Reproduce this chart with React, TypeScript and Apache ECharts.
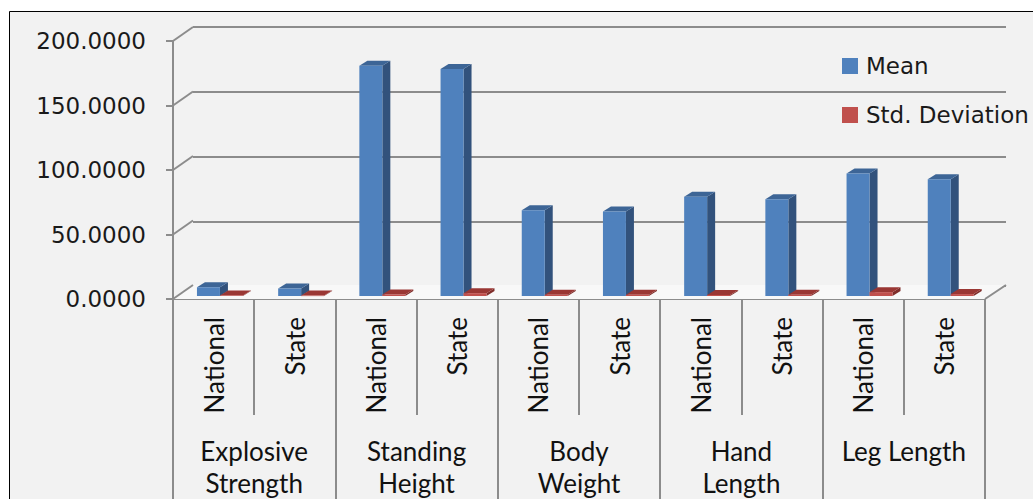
import React, { useEffect, useRef } from "react";
import * as echarts from "echarts";

const groups = ["Explosive\nStrength", "Standing\nHeight", "Body\nWeight", "Hand\nLength", "Leg Length"];
const levels = ["National", "State"];
const categories = groups.flatMap(() => levels);
const meanValues = [6.8, 5.8, 178.5, 176.0, 66.5, 65.5, 77.0, 75.0, 95.0, 90.5];
const sdValues = [0.4, 0.3, 1.2, 2.2, 1.0, 1.0, 0.8, 1.0, 3.0, 1.5];
const yTicks = [0, 50, 100, 150, 200];

const WALL_DX = 20;
const WALL_DY = -14;
const BAR_DX = 8;
const BAR_DY = -5;
const GRID = "#8c8c8c";

function makeBox(
  api: any,
  offsetIndex: number,
  colors: { front: string; top: string; side: string }
) {
  const i = api.value(0);
  const v = api.value(1);
  const p0 = api.coord([i, 0]);
  const pv = api.coord([i, v]);
  const bw = api.size([1, 0])[0];
  const start = p0[0] - bw / 2;
  const w = 0.283 * bw;
  const left = start + 0.295 * bw + offsetIndex * w;
  const yb = p0[1] - 3;
  const yt = pv[1] - 3;
  return {
    type: "group",
    children: [
      {
        type: "polygon",
        shape: {
          points: [
            [left + w, yt],
            [left + w + BAR_DX, yt + BAR_DY],
            [left + w + BAR_DX, yb + BAR_DY],
            [left + w, yb],
          ],
        },
        style: { fill: colors.side },
      },
      {
        type: "polygon",
        shape: {
          points: [
            [left, yt],
            [left + w, yt],
            [left + w + BAR_DX, yt + BAR_DY],
            [left + BAR_DX, yt + BAR_DY],
          ],
        },
        style: { fill: colors.top },
      },
      {
        type: "rect",
        shape: { x: left, y: yt, width: w, height: Math.max(yb - yt, 0.5) },
        style: { fill: colors.front },
      },
    ],
  };
}

export default function App() {
  const ref = useRef<HTMLDivElement>(null);
  useEffect(() => {
    if (!ref.current) return;
    const chart = echarts.init(ref.current, null, { renderer: "svg" });
    const option: any = {
      animation: false,
      backgroundColor: "#ffffff",
      graphic: [
        {
          type: "rect",
          z: -100,
          silent: true,
          shape: { x: 9.5, y: 11.5, width: 1100, height: 600 },
          style: { fill: "#f2f2f2", stroke: "#000000", lineWidth: 1 },
        },
      ],
      legend: {
        orient: "vertical",
        left: 842,
        top: 52,
        padding: 0,
        itemWidth: 16,
        itemHeight: 16,
        itemGap: 21,
        icon: "rect",
        data: ["Mean", "Std. Deviation"],
        textStyle: {
          fontFamily: "DejaVu Sans",
          fontSize: 23,
          lineHeight: 28,
          color: "#1a1a1a",
          padding: [0, 0, 0, 3],
        },
      },
      grid: [
        { left: 173, right: 48, top: 41, bottom: 199 },
        { left: 173 + WALL_DX, right: 48 - 21, top: 41 + WALL_DY, bottom: 199 - WALL_DY },
      ],
      xAxis: [
        {
          gridIndex: 0,
          type: "category",
          data: categories,
          position: "bottom",
          axisLine: { show: true, lineStyle: { color: GRID, width: 2 } },
          axisTick: { show: true, interval: 0, length: 116, lineStyle: { color: GRID, width: 2 } },
          axisLabel: {
            interval: 0,
            rotate: 90,
            margin: 18,
            fontFamily: "Lato",
            fontSize: 26,
            color: "#111111",
          },
        },
        {
          gridIndex: 0,
          type: "category",
          data: groups,
          position: "bottom",
          axisLine: { show: false },
          axisTick: { show: true, interval: 0, length: 220, lineStyle: { color: GRID, width: 2 } },
          axisLabel: {
            interval: 0,
            margin: 136,
            lineHeight: 32,
            fontFamily: "Lato",
            fontSize: 26,
            color: "#111111",
          },
        },
        { gridIndex: 1, type: "value", show: false, min: 0, max: 1 },
      ],
      yAxis: [
        {
          gridIndex: 0,
          type: "value",
          min: 0,
          max: 200,
          interval: 50,
          axisLine: { show: true, lineStyle: { color: GRID, width: 2 } },
          axisTick: { show: true, length: 7, lineStyle: { color: GRID, width: 2 } },
          splitLine: { show: false },
          axisLabel: {
            formatter: (v: number) => v.toFixed(4),
            fontFamily: "DejaVu Sans",
            fontSize: 23,
            margin: 27,
            color: "#1a1a1a",
          },
        },
        {
          gridIndex: 1,
          type: "value",
          min: 0,
          max: 200,
          interval: 50,
          axisLine: { show: false },
          axisTick: { show: false },
          axisLabel: { show: false },
          splitLine: { show: true, lineStyle: { color: GRID, width: 2 } },
        },
      ],
      series: [
        {
          type: "custom",
          name: "floor",
          xAxisIndex: 0,
          yAxisIndex: 0,
          z: 1,
          silent: true,
          data: [[0, 0]],
          renderItem: (params: any, api: any) => {
            const p = api.coord([0, 0]);
            const bw = api.size([1, 0])[0];
            const l = p[0] - bw / 2;
            const r = l + bw * categories.length;
            const y = p[1];
            return {
              type: "group",
              children: [
                {
                  type: "polygon",
                  shape: { points: [[l, y], [r, y], [r + WALL_DX, y + WALL_DY], [l + WALL_DX, y + WALL_DY]] },
                  style: { fill: "#f8f8f8" },
                },
                {
                  type: "line",
                  shape: { x1: r, y1: y, x2: r + WALL_DX + 1, y2: y + WALL_DY },
                  style: { stroke: GRID, lineWidth: 2 },
                },
              ],
            };
          },
        },
        {
          type: "custom",
          name: "walls",
          xAxisIndex: 0,
          yAxisIndex: 0,
          z: 1,
          silent: true,
          data: yTicks.map((t) => [0, t]),
          renderItem: (params: any, api: any) => {
            const p = api.coord([0, api.value(1)]);
            const bw = api.size([1, 0])[0];
            const x = p[0] - bw / 2;
            return {
              type: "line",
              shape: { x1: x, y1: p[1], x2: x + WALL_DX, y2: p[1] + WALL_DY },
              style: { stroke: GRID, lineWidth: 2 },
            };
          },
        },
        {
          type: "custom",
          name: "Mean",
          xAxisIndex: 0,
          yAxisIndex: 0,
          z: 3,
          itemStyle: { color: "#4f81bd" },
          data: meanValues.map((v, i) => [i, v]),
          renderItem: (params: any, api: any) =>
            makeBox(api, 0, { front: "#4f81bd", top: "#3d6596", side: "#32527c" }),
        },
        {
          type: "custom",
          name: "Std. Deviation",
          xAxisIndex: 0,
          yAxisIndex: 0,
          z: 3,
          itemStyle: { color: "#c0504d" },
          data: sdValues.map((v, i) => [i, v]),
          renderItem: (params: any, api: any) =>
            makeBox(api, 1, { front: "#c0504d", top: "#9a3734", side: "#7f2d2a" }),
        },
      ],
    };
    chart.setOption(option);
    return () => chart.dispose();
  }, []);
  return (
    <div
      ref={ref}
      style={{ position: "absolute", left: 0, top: 0, width: 1033, height: 499 }}
    />
  );
}
